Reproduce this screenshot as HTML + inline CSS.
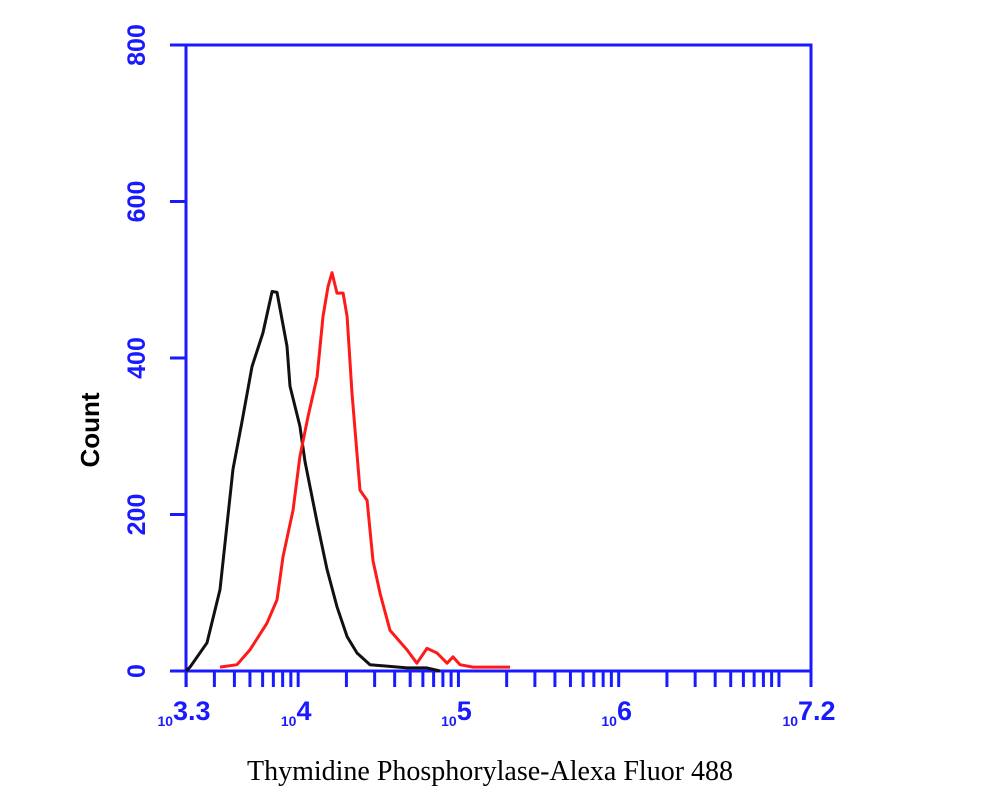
<!DOCTYPE html>
<html><head><meta charset="utf-8"><style>
html,body{margin:0;padding:0;background:#fff;}
svg{display:block;}
</style></head><body>
<svg id="chart" width="1000" height="800" viewBox="0 0 1000 800" xmlns="http://www.w3.org/2000/svg">
<rect x="0" y="0" width="1000" height="800" fill="#fff"/>
<g id="axes"></g>
<g id="series"></g>
<text x="0" y="0" transform="translate(99,430) rotate(-90)" text-anchor="middle" font-family="Liberation Sans, sans-serif" font-size="26" font-weight="bold" fill="#000">Count</text>
<text x="490" y="780" text-anchor="middle" font-family="Liberation Serif, serif" font-size="28" fill="#000">Thymidine Phosphorylase-Alexa Fluor 488</text>
</svg>
<script>
const yTicks = [0, 200, 400, 600, 800];
const xLabelExps = ["3.3", "4", "5", "6", "7.2"];
const xLabelPos = [3.3, 4, 5, 6, 7.2];
const controlLog = [3.3,3.325,3.431,3.512,3.593,3.649,3.712,3.780,3.837,3.868,3.930,3.949,4.011,4.043,4.118,4.180,4.242,4.305,4.367,4.448,4.679,4.804,4.885];
const controlCount = [0,5,36,104,258,318,389,432,485,484,415,364,313,267,190,130,82,44,23,8,4,4,0];
const stainedLog = [3.512,3.618,3.699,3.805,3.868,3.905,3.968,4.011,4.061,4.118,4.155,4.186,4.211,4.242,4.280,4.305,4.336,4.386,4.430,4.467,4.511,4.573,4.679,4.741,4.804,4.866,4.929,4.966,5.010,5.091,5.322];
const stainedCount = [5,8,27,61,91,146,206,274,325,376,453,491,509,483,483,453,355,231,218,141,99,52,27,10,29,23,10,18,8,5,5];

const L=186,R=811,T=45,B=671,XMIN=3.3,XMAX=7.2,YMAX=800;
const xs=v=>L+(v-XMIN)/(XMAX-XMIN)*(R-L);
const ys=v=>B-v/YMAX*(B-T);
const NS="http://www.w3.org/2000/svg";
const axes=document.getElementById('axes');
const series=document.getElementById('series');
function mk(tag,attrs,parent){const e=document.createElementNS(NS,tag);for(const k in attrs)e.setAttribute(k,attrs[k]);parent.appendChild(e);return e;}
const BLUE="#1a1aff";
const frame=mk('rect',{x:L,y:T,width:R-L,height:B-T,fill:'none',stroke:BLUE,'stroke-width':3},axes);


const xaxis=mk('line',{x1:L-16,y1:B,x2:R,y2:B,stroke:BLUE,'stroke-width':3},axes);


yTicks.forEach(v=>{
  const t=mk('line',{x1:L-16,y1:ys(v),x2:L,y2:ys(v),stroke:BLUE,'stroke-width':3},axes);
  
  
  const lb=mk('text',{transform:`translate(145,${ys(v)}) rotate(-90)`,'text-anchor':'middle','font-family':'Liberation Sans, sans-serif','font-size':25,'font-weight':'bold',fill:BLUE},axes);
  lb.textContent=String(v);
  
  
});
const tickVals=[];
for(let d=3;d<=7;d++){for(let m=1;m<=9;m++){const lv=d+Math.log10(m);if(lv>=XMIN-1e-6&&lv<=XMAX+1e-6)tickVals.push(lv);}}
tickVals.push(XMIN,XMAX);
tickVals.forEach(lv=>{
  const t=mk('line',{x1:xs(lv),y1:B,x2:xs(lv),y2:B+16,stroke:BLUE,'stroke-width':3},axes);
  
  
});
xLabelExps.forEach((e,i)=>{
  const x=xs(xLabelPos[i]);
  const g=mk('text',{x:x-2,y:726,'text-anchor':'middle','font-family':'Liberation Sans, sans-serif','font-weight':'bold',fill:BLUE},axes);
  
  
  const s1=mk('tspan',{'font-size':14,dy:0},g);s1.textContent='10';
  const s2=mk('tspan',{'font-size':27,dy:-6},g);s2.textContent=e;
});
function path(lx,cy,color,name){
  let d='';
  lx.forEach((v,i)=>{d+=(i?'L':'M')+xs(v).toFixed(1)+','+ys(cy[i]).toFixed(1);});
  const p=mk('path',{d:d,fill:'none',stroke:color,'stroke-width':3,'stroke-linejoin':'round'},series);
  
  
}
path(controlLog,controlCount,'#111','isotype-control-histogram');
path(stainedLog,stainedCount,'#ff1a1a','stained-histogram');
</script>
</body></html>
